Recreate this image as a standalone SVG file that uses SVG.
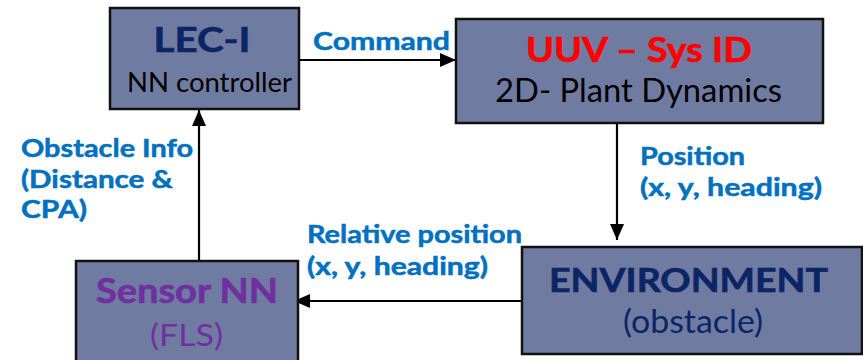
<svg xmlns="http://www.w3.org/2000/svg" width="863" height="360" viewBox="0 0 863 360">
  <style>
    .box { fill: #707ba1; stroke: #111111; stroke-width: 2.5; }
    .t { font-family: Lato, "Liberation Sans", sans-serif; }
    .b { font-weight: bold; stroke-width: 0.6; }
    .navy { fill: #0b2566; stroke: #0b2566; }
    .lbl { fill: #0070c0; stroke: #0070c0; stroke-width: 0.5; font-weight: bold; font-size: 25px; }
    .wire { stroke: #000000; stroke-width: 2.2; fill: none; marker-end: url(#head); }
  </style>
  <defs>
    <marker id="head" markerUnits="userSpaceOnUse" markerWidth="16" markerHeight="14" refX="16" refY="7" orient="auto">
      <path d="M0,0 L16,7 L0,14 z" fill="#000000"/>
    </marker>
  </defs>

  <!-- connectors -->
  <g id="connectors">
    <line class="wire" x1="299" y1="60" x2="456" y2="60"/>
    <line class="wire" x1="617" y1="123" x2="617" y2="240"/>
    <line class="wire" x1="522" y1="301" x2="294" y2="301"/>
    <line class="wire" x1="199" y1="261" x2="199" y2="110"/>
  </g>

  <!-- connector labels -->
  <g id="labels" class="t">
    <text class="lbl" x="313" y="50" textLength="137" lengthAdjust="spacingAndGlyphs">Command</text>
    <text class="lbl" x="640" y="165" textLength="105" lengthAdjust="spacingAndGlyphs">Position</text>
    <text class="lbl" x="640" y="196" textLength="182" lengthAdjust="spacingAndGlyphs">(x, y, heading)</text>
    <text class="lbl" x="307" y="243" textLength="215" lengthAdjust="spacingAndGlyphs">Relative position</text>
    <text class="lbl" x="307" y="275" textLength="181" lengthAdjust="spacingAndGlyphs">(x, y, heading)</text>
    <text class="lbl" x="21" y="157" textLength="172" lengthAdjust="spacingAndGlyphs">Obstacle Info</text>
    <text class="lbl" x="21" y="188" textLength="152" lengthAdjust="spacingAndGlyphs">(Distance &amp;</text>
    <text class="lbl" x="21" y="218" textLength="66" lengthAdjust="spacingAndGlyphs">CPA)</text>
  </g>

  <g id="lec1">
    <rect class="box" x="110" y="8" width="189" height="101"/>
    <text class="t b navy" x="202" y="52" font-size="34" text-anchor="middle" textLength="97" lengthAdjust="spacingAndGlyphs">LEC-I</text>
    <text class="t" x="127" y="92" font-size="26" fill="#000000" textLength="165" lengthAdjust="spacingAndGlyphs">NN controller</text>
  </g>

  <g id="uuv">
    <rect class="box" x="456" y="19" width="367" height="104"/>
    <text class="t b" x="526" y="62" font-size="34" fill="#ff0000" stroke="#ff0000" textLength="226" lengthAdjust="spacingAndGlyphs">UUV – Sys ID</text>
    <text class="t" x="495" y="102" font-size="33" fill="#000000" textLength="287" lengthAdjust="spacingAndGlyphs">2D- Plant Dynamics</text>
  </g>

  <g id="sensor">
    <rect class="box" x="76" y="261" width="222" height="110"/>
    <text class="t b" x="96" y="303" font-size="34" fill="#7030a0" stroke="#7030a0" textLength="182" lengthAdjust="spacingAndGlyphs">Sensor NN</text>
    <text class="t" x="150" y="346" font-size="31" fill="#7030a0" textLength="73" lengthAdjust="spacingAndGlyphs">(FLS)</text>
  </g>

  <g id="environment">
    <rect class="box" x="522" y="247" width="340" height="107"/>
    <text class="t b navy" x="549" y="292" font-size="33" textLength="279" lengthAdjust="spacingAndGlyphs">ENVIRONMENT</text>
    <text class="t" x="623" y="333" font-size="32" fill="#0b2566" textLength="140" lengthAdjust="spacingAndGlyphs">(obstacle)</text>
  </g>
</svg>
